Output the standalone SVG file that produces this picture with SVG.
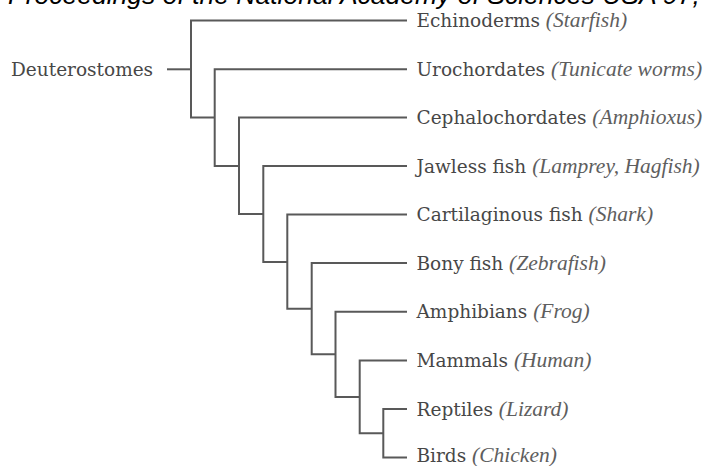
<svg xmlns="http://www.w3.org/2000/svg" width="711" height="466" viewBox="0 0 711 466">
<style>
.hdr{font-family:"Liberation Sans",Arial,sans-serif;font-style:italic;font-size:26.5px;fill:#000}
.lbl{font-family:"DejaVu Serif","Liberation Serif",serif;font-size:18.5px;fill:#474747}
.sp{font-family:"Liberation Serif",serif;font-style:italic;font-size:21.5px;fill:#5e5e5e}
.br{fill:none;stroke:#595959;stroke-width:2;stroke-linejoin:miter}
</style>
<rect width="711" height="466" fill="#fff"/>
<text class="hdr" x="8" y="4">Proceedings of the National Academy of Sciences USA 97,</text>
<g id="connectors">
<path class="br" d="M167,69.3 H191"/>
<path class="br" d="M407,20.5 H191 V117.5 H214.7"/>
<path class="br" d="M407,69.3 H214.7 V166 H239"/>
<path class="br" d="M407,117.5 H239 V214 H263.3"/>
<path class="br" d="M407,166 H263.3 V262 H287.3"/>
<path class="br" d="M407,214.5 H287.3 V308.7 H311.7"/>
<path class="br" d="M407,263 H311.7 V354.3 H335.5"/>
<path class="br" d="M407,311.8 H335.5 V397 H359.7"/>
<path class="br" d="M407,360.5 H359.7 V433.3 H383.3"/>
<path class="br" d="M407,409 H383.3 V457.5 H407"/>
</g>
<g id="root"><text class="lbl" x="11" y="75.8">Deuterostomes</text></g>
<g id="echinoderms"><text class="lbl" x="416.5" y="27">Echinoderms <tspan class="sp">(Starfish)</tspan></text></g>
<g id="urochordates"><text class="lbl" x="416.5" y="75.8">Urochordates <tspan class="sp">(Tunicate worms)</tspan></text></g>
<g id="cephalochordates"><text class="lbl" x="416.5" y="124">Cephalochordates <tspan class="sp">(Amphioxus)</tspan></text></g>
<g id="jawless"><text class="lbl" x="416.5" y="172.5">Jawless fish <tspan class="sp">(Lamprey, Hagfish)</tspan></text></g>
<g id="cartilaginous"><text class="lbl" x="416.5" y="221">Cartilaginous fish <tspan class="sp">(Shark)</tspan></text></g>
<g id="bony"><text class="lbl" x="416.5" y="269.5">Bony fish <tspan class="sp">(Zebrafish)</tspan></text></g>
<g id="amphibians"><text class="lbl" x="416.5" y="318.3">Amphibians <tspan class="sp">(Frog)</tspan></text></g>
<g id="mammals"><text class="lbl" x="416.5" y="367">Mammals <tspan class="sp">(Human)</tspan></text></g>
<g id="reptiles"><text class="lbl" x="416.5" y="415.5">Reptiles <tspan class="sp">(Lizard)</tspan></text></g>
<g id="birds"><text class="lbl" x="416.5" y="461.5">Birds <tspan class="sp">(Chicken)</tspan></text></g>
</svg>
